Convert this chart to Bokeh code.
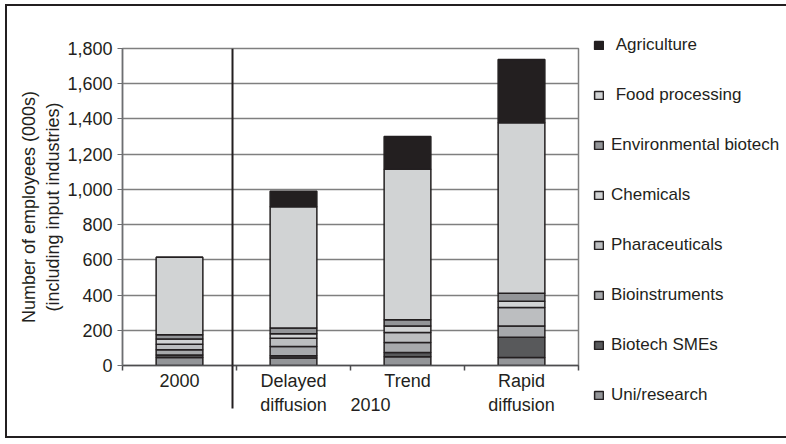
from bokeh.plotting import figure
from bokeh.models import (ColumnDataSource, Range1d, FixedTicker, NumeralTickFormatter,
                          Legend, LegendItem, LinearAxis, Arrow)
from bokeh.embed import file_html
from bokeh.resources import INLINE

# ---- data ----
categories = ["2000", "Delayed\ndiffusion", "Trend", "Rapid\ndiffusion"]
group_label = "2010"
group_pos = 2.175
separator_pos = 0.965
uni_research = [45, 42, 49, 45]
biotech_smes = [15, 13, 25, 115]
bioinstruments = [30, 53, 57, 65]
pharmaceuticals = [30, 47, 57, 105]
chemicals = [30, 25, 36, 35]
environmental = [25, 33, 36, 45]
food_processing = [440, 688, 855, 968]
agriculture = [0, 89, 185, 360]
y_ticks = [0, 200, 400, 600, 800, 1000, 1200, 1400, 1600, 1800]

series = ["uni", "smes", "bioinst", "pharma", "chem", "env", "food", "agri"]
labels = ["Uni/research", "Biotech SMEs", "Bioinstruments", "Pharaceuticals",
          "Chemicals", "Environmental biotech", "\u00a0Food processing", "\u00a0Agriculture"]
colors = ["#939598", "#58595b", "#a7a9ac", "#bcbec0",
          "#d1d3d4", "#939598", "#d1d3d4", "#231f20"]

x = [i + 0.5 for i in range(len(categories))]
source = ColumnDataSource(dict(x=x, uni=uni_research, smes=biotech_smes, bioinst=bioinstruments,
                               pharma=pharmaceuticals, chem=chemicals, env=environmental,
                               food=food_processing, agri=agriculture))

TXT = "#231f20"
FONT = "Liberation Sans"

p = figure(frame_width=456, frame_height=317, output_backend="svg", toolbar_location=None,
           x_range=Range1d(0, 4), y_range=Range1d(0, 1800),
           min_border_left=115, min_border_right=204, min_border_top=42, min_border_bottom=71)
p.styles = {"border": "2px solid #231f20", "margin-left": "5px", "margin-top": "4px"}
p.outline_line_color = "#7f7f7f"
p.outline_line_width = 1.5

# grid
p.xgrid.grid_line_color = None
p.ygrid.ticker = FixedTicker(ticks=y_ticks)
p.ygrid.grid_line_color = "#7f7f7f"
p.ygrid.grid_line_width = 1.5

# y axis
p.yaxis.ticker = FixedTicker(ticks=y_ticks)
p.yaxis.formatter = NumeralTickFormatter(format="0,0")
p.yaxis.axis_line_color = "#6d6e71"
p.yaxis.axis_line_width = 1.5
p.yaxis.major_tick_line_color = "#6d6e71"
p.yaxis.major_tick_in = 0
p.yaxis.major_tick_out = 5
p.yaxis.minor_tick_line_color = None
p.yaxis.major_label_text_font = FONT
p.yaxis.major_label_text_font_size = "18px"
p.yaxis.major_label_text_color = TXT
p.yaxis.major_label_standoff = 5
p.yaxis.axis_label = "Number of employees (000s)\n(including input industries)"
p.yaxis.axis_label_text_font = FONT
p.yaxis.axis_label_text_font_size = "18px"
p.yaxis.axis_label_text_font_style = "normal"
p.yaxis.axis_label_text_color = TXT
p.yaxis.axis_label_standoff = 1

# x axis 1: boundary ticks + long separator tick
ax1 = p.xaxis[0]
ax1.ticker = FixedTicker(ticks=[separator_pos], minor_ticks=list(range(len(categories) + 1)))
ax1.major_label_overrides = {separator_pos: ""}
ax1.major_label_standoff = 0
ax1.axis_line_color = "#4d4d4f"
ax1.axis_line_width = 1.5
ax1.major_tick_line_color = "#231f20"
ax1.major_tick_line_width = 2
ax1.major_tick_in = 0
ax1.major_tick_out = 43
ax1.minor_tick_line_color = "#4d4d4f"
ax1.minor_tick_line_width = 1.5
ax1.minor_tick_in = 0
ax1.minor_tick_out = 5

# x axis 2: category labels
overrides = {xi: c for xi, c in zip(x, categories)}
overrides[group_pos] = "\u00a0\n" + group_label
ax2 = LinearAxis(ticker=FixedTicker(ticks=sorted(list(x) + [group_pos])),
                 major_label_overrides=overrides,
                 axis_line_color=None, major_tick_line_color=None, minor_tick_line_color=None,
                 major_label_text_font=FONT, major_label_text_font_size="18px",
                 major_label_text_color=TXT, major_label_standoff=-44)
p.add_layout(ax2, "below")

rs = p.vbar_stack(series, x="x", width=0.41, source=source, fill_color=colors,
                  line_color="#231f20", line_width=1.5)

# separator between 2000 and 2010 groups (inside the frame)
p.add_layout(Arrow(end=None, x_start=separator_pos, y_start=1800, x_end=separator_pos, y_end=0,
                   line_color="#231f20", line_width=2))

items = [LegendItem(label=lab, renderers=[r]) for lab, r in zip(labels, rs)][::-1]
legend = Legend(items=items, location=(15, -40), padding=0, margin=0,
                border_line_color=None, background_fill_alpha=0,
                glyph_width=11, glyph_height=10, label_height=20, spacing=30,
                label_standoff=7, label_text_font=FONT, label_text_font_size="17px",
                label_text_color=TXT)
p.add_layout(legend, "right")

open("out.html", "w").write(file_html(p, INLINE))
